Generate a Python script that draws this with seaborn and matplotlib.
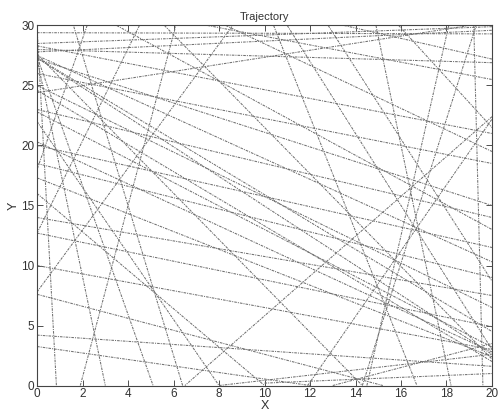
import numpy as np
import pandas as pd
import seaborn as sns
import matplotlib.pyplot as plt

sns.set_theme(style="ticks")
plt.rcParams['font.family'] = ['Liberation Sans', 'DejaVu Sans']

# wall-to-wall segments of the trajectory
x_start = [0, 0, 0, 0, 0, 0, 0, 0, 0, 0, 0, 0, 0, 0, 0, 0, 0, 5.6, 11.0, 0,
           0, 0, 8.0, 10.0, 13.0, 0, 1.9, 6.4, 10.4, 12.8, 14.9, 18.1, 19.2, 15.9, 20, 0,
           0, 4.5, 2.2, 11.9, 14.3, 0, 0, 0, 3.5, 8.3, 0, 0, 0, 0,
           7.5, 0, 13.5, 0]
y_start = [27.3, 27.5, 27.2, 27.2, 27.4, 27.6, 28.3, 27.8, 28.5, 29.4, 28.0, 27.3, 20.3, 17.3, 22.8, 12.7, 24.6, 30, 30, 4.2,
           3.25, 7.6, 0, 0.2, 0, 29.8, 0, 0, 30, 30, 30, 30, 30, 30, 22.4, 7.8,
           24.4, 30, 30, 0, 0, 20.0, 23.0, 25.0, 30, 30, 26.0, 14.0, 10.0, 22.0,
           30, 18.5, 30, 16.0]
x_end = [20, 20, 20, 3.0, 5.1, 14.3, 20, 20, 20, 20, 20, 20, 20, 20, 20, 20, 20, 20, 20, 20,
         12.0, 15.2, 20, 20, 20, 0.85, 6.1, 1.6, 16.7, 20, 18.2, 14.5, 19.6, 20, 6.5, 8.6,
         19.0, 0, 0, 20, 19.3, 20, 20, 20, 20, 20, 20, 20, 20, 8.0,
         20, 20, 20, 10.0]
y_end = [2.6, 10.3, 15.0, 0, 0, 0, 21.0, 29.6, 29.9, 29.3, 26.9, 4.5, 2.8, 2.4, 3.2, 4.9, 2.0, 2.2, 3.0, 1.6,
         0, 0, 2.6, 1.0, 3.5, 0, 30, 30, 0, 8.7, 0, 0, 0, 21.5, 0, 30,
         30, 12.7, 18.0, 22.2, 30, 11.5, 14.0, 6.5, 13.0, 19.5, 18.5, 7.5, 3.0, 0,
         25.5, 9.0, 27.2, 0]

n = len(x_start)
df = pd.DataFrame({
    "seg": np.concatenate([np.arange(n), np.arange(n)]),
    "X": np.concatenate([x_start, x_end]),
    "Y": np.concatenate([y_start, y_end]),
})

fig, ax = plt.subplots(figsize=(5.01, 4.11), dpi=100)
sns.lineplot(data=df, x="X", y="Y", units="seg", estimator=None, sort=False,
             color="#707070", lw=0.75, ax=ax)
for ln in ax.lines:
    ln.set_linestyle((0, (2.5, 1, 1, 1)))

ax.set_xlim(0, 20)
ax.set_ylim(0, 30)
ax.set_xticks(range(0, 21, 2))
ax.set_yticks(range(0, 31, 5))
ax.tick_params(direction="in", top=True, right=True, bottom=True, left=True,
               length=4, width=0.6, labelsize=8.5, pad=2, colors="#333333")
for sp in ax.spines.values():
    sp.set_visible(True)
    sp.set_linewidth(0.8)
    sp.set_color("#444444")

ax.set_title("Trajectory", fontsize=8, pad=4, color="#333333")
ax.set_xlabel("X", fontsize=9, labelpad=0, color="#333333")
ax.set_ylabel("Y", fontsize=9, labelpad=1, color="#333333")

fig.subplots_adjust(left=0.074, right=0.982, bottom=0.062, top=0.938)
fig.savefig("out.png", dpi=100)
